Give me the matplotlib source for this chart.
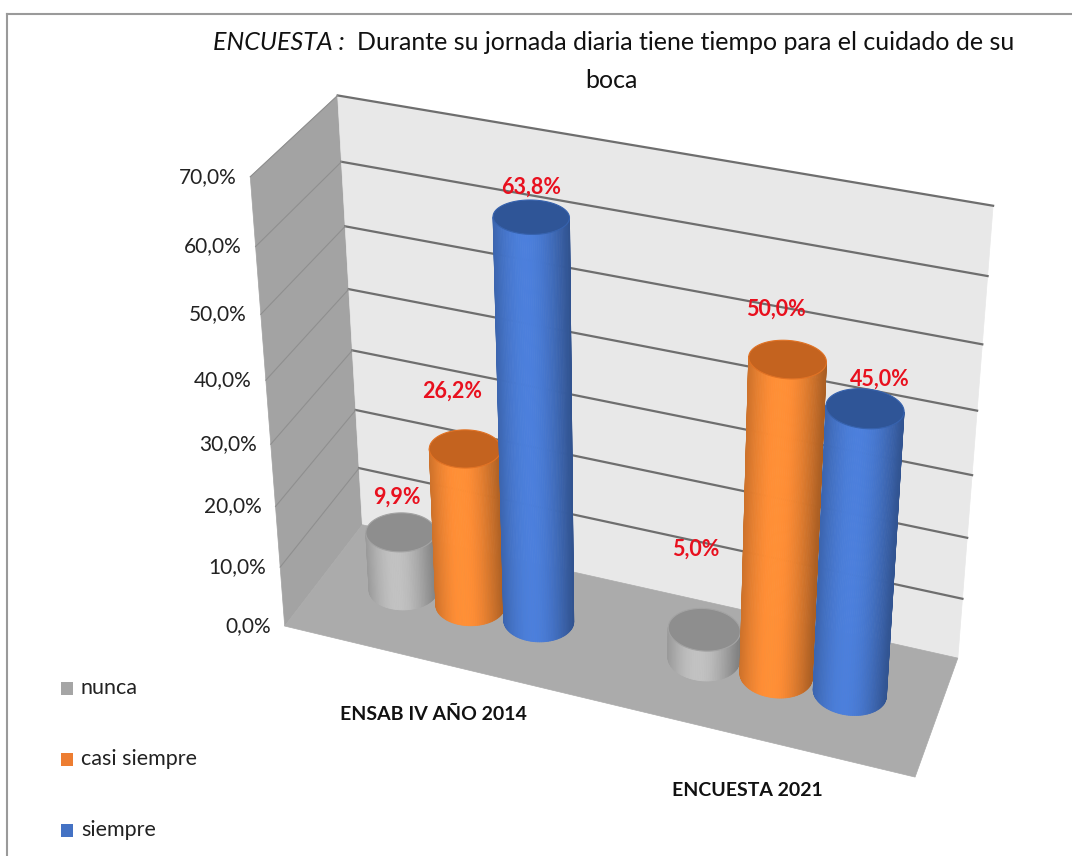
import numpy as np
import matplotlib.pyplot as plt
from matplotlib.patches import Polygon, Rectangle

plt.rcParams['font.family'] = ['Lato', 'DejaVu Sans']

# Data
categories = ["ENSAB IV AÑO 2014", "ENCUESTA 2021"]
series = ["nunca", "casi siempre", "siempre"]
nunca = [9.9, 5.0]
casi_siempre = [26.2, 50.0]
siempre = [63.8, 45.0]
yticks = [0, 10, 20, 30, 40, 50, 60, 70]

values = [nunca, casi_siempre, siempre]
side_colors = ["#B4B4B4", "#F08532", "#4676CC"]
top_colors = ["#8E8E8E", "#C4631F", "#2F5597"]
legend_colors = ["#A5A5A5", "#ED7D31", "#4472C4"]

# perspective camera fitted to the box corners (x: category, y: depth, z: value/70)
box3d = np.array([[0, 1, 1], [0, 1, 0], [2, 1, 1], [2, 1, 0],
                  [0, 0, 1], [0, 0, 0], [2, 0, 0]], float)
box2d = np.array([[338, 95], [362, 526], [993, 206], [958, 657],
                  [250, 177], [285, 625], [915, 778]], float) / 1000
rows = []
for (X, Y, Z), (u, v) in zip(box3d, box2d):
    rows.append([X, Y, Z, 1, 0, 0, 0, 0, -u*X, -u*Y, -u*Z, -u])
    rows.append([0, 0, 0, 0, X, Y, Z, 1, -v*X, -v*Y, -v*Z, -v])
P = np.linalg.svd(np.array(rows))[2][-1].reshape(3, 4)
cam = np.linalg.svd(P)[2][-1]
cam = cam[:3] / cam[3]


def proj(X, Y, Z):
    X, Y, Z = np.broadcast_arrays(np.asarray(X, float), np.asarray(Y, float), np.asarray(Z, float) / 70)
    h = P @ np.vstack([X.ravel(), Y.ravel(), Z.ravel(), np.ones(X.size)])
    return 1000*h[0]/h[2], 1000*h[1]/h[2]


def face(ax, pts, color, z=1):
    u, v = proj(*np.array(pts, float).T)
    ax.add_patch(Polygon(np.c_[u, v], closed=True, facecolor=color, edgecolor=color, lw=0.5, zorder=z))


fig = plt.figure(figsize=(10.72, 8.56), dpi=100)
ax = fig.add_axes([0, 0, 1, 1])
ax.set_xlim(0, 1072)
ax.set_ylim(856, 0)
ax.axis('off')

# frame of the picture
ax.plot([7, 1072], [14, 14], color="#9A9A9A", lw=1.5)
ax.plot([7, 7], [14, 856], color="#9A9A9A", lw=1.5)

# walls and floor
face(ax, [[0, 0, 0], [0, 1, 0], [0, 1, 70], [0, 0, 70]], "#A3A3A3")
face(ax, [[0, 1, 0], [2, 1, 0], [2, 1, 70], [0, 1, 70]], "#E8E8E8")
face(ax, [[0, 0, 0], [2, 0, 0], [2, 1, 0], [0, 1, 0]], "#ABABAB")

for t in yticks[1:]:
    u, v = proj([0, 2], 1, t)
    ax.plot(u, v, color="#6E6E6E", lw=1.6, zorder=2)
    u, v = proj([0, 0], [0, 1], t)
    ax.plot(u, v, color="#8F8F8F", lw=0.8, zorder=2)
for t in yticks:
    u, v = proj(0, 0, t)
    ax.text(u[0] - 14, v[0], f"{t:.1f}%".replace(".", ","), ha='right', va='center',
            fontsize=15, color="#222222")

# cylinders
offsets = [-0.23, 0.0, 0.23]
rx, ry, yc = 0.11, 0.18, 0.52
theta = np.linspace(0, 2*np.pi, 121)


def shade(color, f):
    c = np.array(plt.matplotlib.colors.to_rgb(color))
    return np.clip(c * f, 0, 1)


cyls = []
for s in range(3):
    for c in range(2):
        xc = c + 0.5 + offsets[s]
        d = np.hypot(cam[0] - xc, cam[1] - yc)
        cyls.append((d, s, c, xc))
cyls.sort(reverse=True)

for i, (d, s, c, xc) in enumerate(cyls):
    val = values[s][c]
    zo = 5 + i
    cx = xc + rx*np.cos(theta)
    cy = yc + ry*np.sin(theta)
    vis = ((cam[0] - cx)*np.cos(theta)/rx + (cam[1] - cy)*np.sin(theta)/ry) > 0
    ub, vb = proj(cx, cy, 0)
    ut, vt = proj(cx, cy, val)
    umin, umax = ub[vis].min(), ub[vis].max()
    for k in range(len(theta) - 1):
        if not (vis[k] or vis[k+1]):
            continue
        sp = ((ub[k] + ub[k+1])/2 - umin) / (umax - umin)
        f = 0.78 + 0.3*np.cos(np.pi*(sp - 0.42))
        col = shade(side_colors[s], f)
        ax.add_patch(Polygon([[ub[k], vb[k]], [ub[k+1], vb[k+1]], [ut[k+1], vt[k+1]], [ut[k], vt[k]]],
                             closed=True, facecolor=col, edgecolor=col, lw=0.6, zorder=zo))
    ax.add_patch(Polygon(np.c_[ut, vt], closed=True, facecolor=top_colors[s],
                         edgecolor=shade(top_colors[s], 1.15), lw=0.8, zorder=zo))

# data labels (pixel nudges as placed in the original)
label_dx = [[-4, -9], [-13, -12], [0, 15]]
label_dy = [[-35, -80], [-58, -50], [-30, -29]]
for s in range(3):
    for c in range(2):
        xc = c + 0.5 + offsets[s]
        u, v = proj(xc, yc, values[s][c])
        ax.text(u[0] + label_dx[s][c], v[0] + label_dy[s][c], f"{values[s][c]:.1f}%".replace(".", ","),
                ha='center', va='center', fontsize=15.5, fontweight='bold', color="#E8101E", zorder=20)

# category labels
for c, name in enumerate(categories):
    u, v = proj(c + 0.5, 0, 0)
    ax.text(u[0], v[0] + 53, name, ha='center', va='center', fontsize=14,
            fontweight='bold', color="#111111")

# title
ax.text(345, 42, "ENCUESTA :", ha='right', va='center', fontsize=18, style='italic', color="#111111")
ax.text(357, 42, "Durante su jornada diaria tiene tiempo para el cuidado de su", ha='left',
        va='center', fontsize=18, color="#111111")
ax.text(611, 80, "boca", ha='center', va='center', fontsize=18, color="#111111")

# legend
for s, name in enumerate(series):
    ly = 688 + 71*s
    ax.add_patch(Rectangle((61, ly - 6.5), 12, 13, facecolor=legend_colors[s], edgecolor='none'))
    ax.text(81, ly, name, ha='left', va='center', fontsize=15.5, color="#222222")

plt.savefig("out.png", dpi=100)
